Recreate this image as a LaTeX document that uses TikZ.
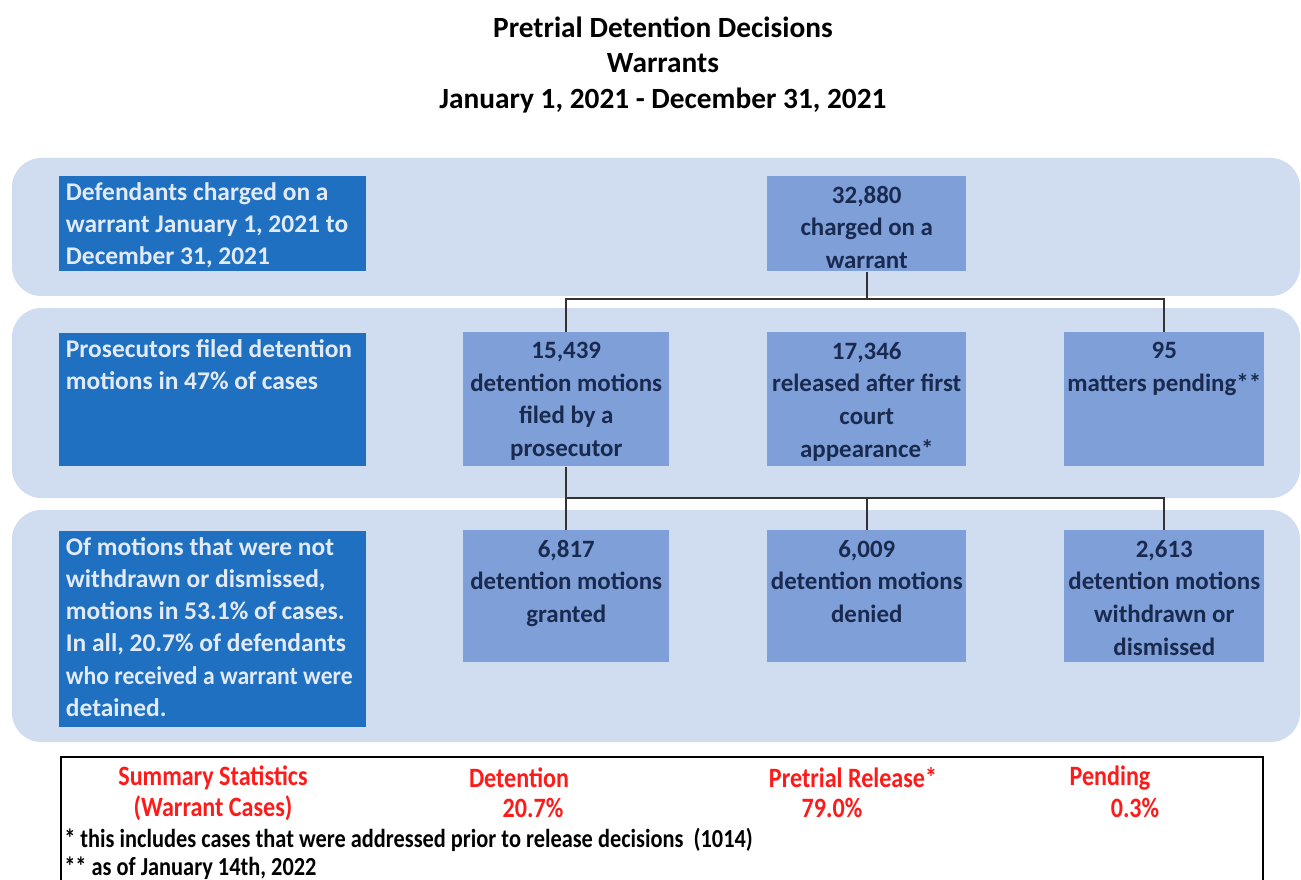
\documentclass[tikz,border=0pt]{standalone}
\usepackage{fontspec}
\usepackage{graphicx}
\setmainfont{Carlito}
\newfontfamily\narrowfont[FakeStretch=0.86]{Carlito}
\definecolor{bandc}{HTML}{D0DCEF}
\definecolor{darkc}{HTML}{1F70C1}
\definecolor{midc}{HTML}{7E9FD8}
\definecolor{navyc}{HTML}{1A2A4F}
\definecolor{lightc}{HTML}{E2EAF6}
\definecolor{sredc}{HTML}{FF1A1A}
\newcommand{\dtext}[3]{\parbox[c][#2][t]{#1}{\vspace*{4.5pt}\raggedright\leftskip=5pt\rightskip=-30pt plus 1fil\fontsize{19.1}{24.2}\selectfont\bfseries #3\par}}
\newcommand{\mtext}[3]{\parbox[c][#2][t]{#1}{\vspace*{7.3pt}\centering\fontsize{18.7}{24.5}\selectfont\bfseries #3\par}}
\begin{document}
\begin{tikzpicture}[x=0.75pt,y=-0.75pt,
  bandstyle/.style={fill=bandc, rounded corners=22pt},
  darkbox/.style={fill=darkc, text=lightc, inner sep=0pt, anchor=north west},
  midbox/.style={fill=midc, text=navyc, inner sep=0pt, anchor=north west},
  conn/.style={draw=black!80, line width=1.2pt},
  sumtxt/.style={text=sredc, font=\narrowfont\bfseries\fontsize{21}{22}\selectfont, inner sep=0pt},
  foottxt/.style={text=black, font=\narrowfont\bfseries\fontsize{19.5}{20}\selectfont, inner sep=0pt, anchor=west},
  titletxt/.style={font=\bfseries\fontsize{22}{24}\selectfont, inner sep=0pt}]
\useasboundingbox (0,0) rectangle (1301,880);
\fill[white] (0,0) rectangle (1301,880);
% title
\node[titletxt] (t1) at (663,27) {Pretrial Detention Decisions};
\node[titletxt] (t2) at (663,63) {Warrants};
\node[titletxt] (t3) at (663,101) {January 1, 2021 - December 31, 2021};
% bands
\fill[bandstyle] (12,158) rectangle (1300,296);
\fill[bandstyle] (12,308) rectangle (1300,498);
\fill[bandstyle] (12,510) rectangle (1300,742);
% left boxes
\node[darkbox] (d1) at (59,176) {\dtext{230.25pt}{71.25pt}{Defendants charged on a\\warrant January 1, 2021 to\\December 31, 2021}};
\node[darkbox] (d2) at (59,333) {\dtext{230.25pt}{99.75pt}{Prosecutors filed detention\\motions in 47\% of cases}};
\node[darkbox] (d3) at (59,531) {\dtext{230.25pt}{147pt}{Of motions that were not\\withdrawn or dismissed,\\motions in 53.1\% of cases.\\In all, 20.7\% of defendants\\\scalebox{0.93}[1]{who received a warrant were}\\detained.}};
% top box
\node[midbox] (top) at (767,176) {\mtext{149.25pt}{71.25pt}{32,880\\charged on a\\warrant}};
% row 2
\node[midbox] (r1) at (463,332) {\mtext{154.5pt}{100.5pt}{15,439\\detention motions\\filed by a\\prosecutor}};
\node[midbox] (r2) at (767,332) {\mtext{149.25pt}{100.5pt}{17,346\\released after first\\court\\appearance*}};
\node[midbox] (r3) at (1064,332) {\mtext{150pt}{100.5pt}{95\\matters pending**}};
% row 3
\node[midbox] (s1) at (463,530) {\mtext{154.5pt}{99pt}{6,817\\detention motions\\granted}};
\node[midbox] (s2) at (767,530) {\mtext{149.25pt}{99pt}{6,009\\detention motions\\denied}};
\node[midbox] (s3) at (1064,530) {\mtext{150pt}{99pt}{2,613\\detention motions\\withdrawn or\\dismissed}};
% connectors
\coordinate (h1) at (0,299);
\coordinate (h2) at (0,498);
\draw[conn] (top.south) -- (top.south |- h1);
\draw[conn] (r1.north) -- (r1.north |- h1) -- (r3.north |- h1) -- (r3.north);
\draw[conn] (r1.south) -- (s1.north);
\draw[conn] (r1.south |- h2) -- (s3.north |- h2) -- (s3.north);
\draw[conn] (s2.north |- h2) -- (s2.north);
% summary
\draw[line width=1.6pt] (61,757) rectangle (1263,900);
\node[sumtxt] (a1) at (213,778) {Summary Statistics};
\node[sumtxt] (a2) at (213,808) {(Warrant Cases)};
\node[sumtxt] (b1) at (519,778) {Detention};
\node[sumtxt] (b2) at (533,808) {20.7\%};
\node[sumtxt] (c1) at (853,778) {Pretrial Release*};
\node[sumtxt] (c2) at (832,808) {79.0\%};
\node[sumtxt] (e1) at (1110,778) {Pending};
\node[sumtxt] (e2) at (1135,808) {0.3\%};
\node[foottxt] (f1) at (64,840) {* this includes cases that were addressed prior to release decisions~~(1014)};
\node[foottxt] (f2) at (64,868) {** as of January 14th, 2022};
\end{tikzpicture}
\end{document}
